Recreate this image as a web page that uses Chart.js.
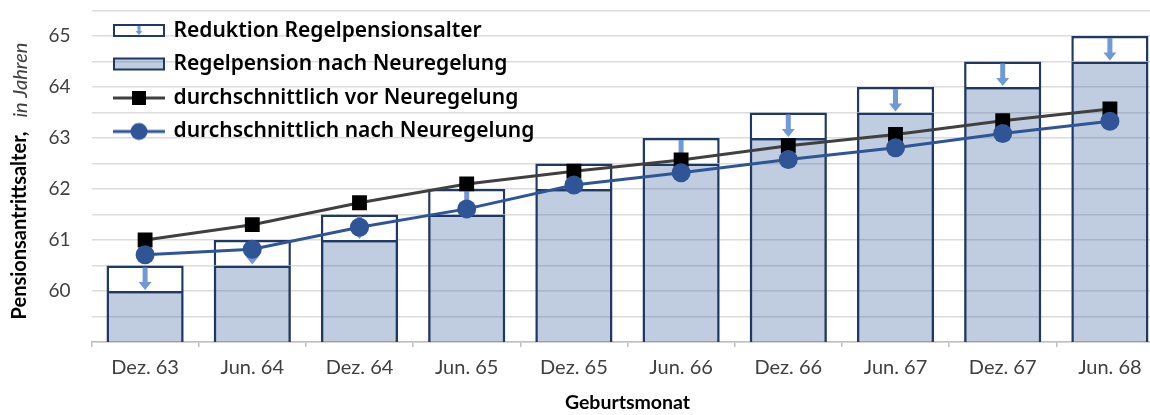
<!DOCTYPE html>
<html lang="de">
<head>
<meta charset="utf-8">
<title>Pensionsantrittsalter nach Geburtsmonat</title>
<script src="https://cdn.jsdelivr.net/npm/chart.js@4.4.1/dist/chart.umd.min.js"></script>
<style>
  html, body { margin: 0; padding: 0; background: #fff; overflow: hidden; }
  #wrap { width: 1174px; height: 415px; }
</style>
</head>
<body>
<div id="wrap"><canvas id="rentChart" width="1174" height="415"></canvas></div>
<script>
const months = ['Dez. 63', 'Jun. 64', 'Dez. 64', 'Jun. 65', 'Dez. 65', 'Jun. 66', 'Dez. 66', 'Jun. 67', 'Dez. 67', 'Jun. 68'];
const regelNeu = [60, 60.5, 61, 61.5, 62, 62.5, 63, 63.5, 64, 64.5];
const reduktion = [0.5, 0.5, 0.5, 0.5, 0.5, 0.5, 0.5, 0.5, 0.5, 0.5];
const vorNeu = [61.0, 61.3, 61.73, 62.1, 62.35, 62.57, 62.85, 63.07, 63.34, 63.57];
const nachNeu = [60.71, 60.82, 61.25, 61.61, 62.08, 62.32, 62.58, 62.81, 63.09, 63.33];
const yLabels = [60, 61, 62, 63, 64, 65];

const navy = '#1f3864';
const barFill = 'rgba(47, 85, 151, 0.3)';
const blue = '#2f5597';
const arrowBlue = '#7099d6';

Chart.defaults.font.family = 'Lato, "Noto Sans", sans-serif';
Chart.defaults.color = '#404040';

function drawArrow(g, x, yTop, yBot, shaft, head, headH) {
    g.beginPath();
    g.moveTo(x - shaft / 2, yTop);
    g.lineTo(x + shaft / 2, yTop);
    g.lineTo(x + shaft / 2, yBot - headH);
    g.lineTo(x + head / 2, yBot - headH);
    g.lineTo(x, yBot);
    g.lineTo(x - head / 2, yBot - headH);
    g.lineTo(x - shaft / 2, yBot - headH);
    g.closePath();
    g.fill();
}

// small canvases used as legend symbols
function legendIcon(paint) {
    const c = document.createElement('canvas');
    c.width = 52;
    c.height = 20;
    paint(c.getContext('2d'));
    return c;
}
const iconReduktion = legendIcon(g => {
    g.fillStyle = '#fff';
    g.fillRect(1, 4, 50, 11);
    g.strokeStyle = navy;
    g.lineWidth = 2;
    g.strokeRect(1, 4, 50, 11);
    g.fillStyle = arrowBlue;
    drawArrow(g, 26, 5, 14, 3, 7, 4);
});
const iconRegel = legendIcon(g => {
    g.fillStyle = barFill;
    g.fillRect(1, 4, 50, 11);
    g.strokeStyle = navy;
    g.lineWidth = 2;
    g.strokeRect(1, 4, 50, 11);
});
const iconVor = legendIcon(g => {
    g.strokeStyle = '#404040';
    g.lineWidth = 3;
    g.beginPath(); g.moveTo(0, 10); g.lineTo(52, 10); g.stroke();
    g.fillStyle = '#000';
    g.fillRect(19, 3, 14, 14);
});
const iconNach = legendIcon(g => {
    g.strokeStyle = blue;
    g.lineWidth = 3;
    g.beginPath(); g.moveTo(0, 10); g.lineTo(52, 10); g.stroke();
    g.fillStyle = blue;
    g.beginPath(); g.arc(26, 10, 8.5, 0, Math.PI * 2); g.fill();
});

// arrows inside the white reduction boxes
const reductionArrows = {
    id: 'reductionArrows',
    afterDatasetDraw(chart, args) {
        if (args.index !== 1) return;
        const y = chart.scales.y;
        const g = chart.ctx;
        g.save();
        g.fillStyle = arrowBlue;
        args.meta.data.forEach((bar, i) => {
            const top = y.getPixelForValue(regelNeu[i] + reduktion[i]);
            const bottom = y.getPixelForValue(regelNeu[i]);
            drawArrow(g, bar.x, top + 2, bottom - 1, 5, 13, 8);
        });
        g.restore();
    }
};

// y axis title with a bold and an italic part
const yTitle = {
    id: 'yTitle',
    afterDraw(chart) {
        const g = chart.ctx;
        const boldFont = 'bold 20px Lato, sans-serif';
        const italFont = 'italic 20px Lato, sans-serif';
        const part1 = 'Pensionsantrittsalter,';
        const part2 = 'in Jahren';
        g.save();
        g.font = boldFont;
        const w1 = g.measureText(part1).width;
        g.font = italFont;
        const w2 = g.measureText(part2).width;
        const gap = 14;
        const total = w1 + gap + w2;
        g.translate(20, 181);
        g.rotate(-Math.PI / 2);
        g.textBaseline = 'middle';
        g.textAlign = 'left';
        g.font = boldFont;
        g.fillStyle = '#000';
        g.fillText(part1, -total / 2, 0);
        g.font = italFont;
        g.fillStyle = '#404040';
        g.fillText(part2, -total / 2 + w1 + gap, 1);
        g.restore();
    }
};

// nudge the legend inside the plot area
const legendShift = {
    id: 'legendShift',
    afterLayout(chart) {
        chart.legend.left += 11;
        chart.legend.top += 8;
    }
};

new Chart(document.getElementById('rentChart'), {
    type: 'bar',
    data: {
        labels: months,
        datasets: [
            {
                label: 'Regelpension nach Neuregelung',
                data: regelNeu,
                backgroundColor: barFill,
                borderColor: navy,
                borderWidth: 2.5,
                barPercentage: 0.72,
                categoryPercentage: 1,
                stack: 'bars',
                order: 2
            },
            {
                label: 'Reduktion Regelpensionsalter',
                data: reduktion,
                backgroundColor: '#ffffff',
                borderColor: navy,
                borderWidth: 2.5,
                barPercentage: 0.72,
                categoryPercentage: 1,
                stack: 'bars',
                order: 2
            },
            {
                type: 'line',
                label: 'durchschnittlich vor Neuregelung',
                data: vorNeu,
                borderColor: '#404040',
                borderWidth: 3,
                pointStyle: 'rect',
                pointRadius: 10.5,
                pointBackgroundColor: '#000',
                pointBorderWidth: 0,
                stack: 'vor',
                order: 1
            },
            {
                type: 'line',
                label: 'durchschnittlich nach Neuregelung',
                data: nachNeu,
                borderColor: blue,
                borderWidth: 3,
                pointStyle: 'circle',
                pointRadius: 9.5,
                pointBackgroundColor: blue,
                pointBorderWidth: 0,
                stack: 'nach',
                order: 0
            }
        ]
    },
    options: {
        responsive: false,
        animation: false,
        layout: { padding: { top: 8.3, right: 3, bottom: 0, left: 0 } },
        scales: {
            x: {
                stacked: true,
                grid: { drawOnChartArea: false, color: '#bfbfbf', tickLength: 5, lineWidth: 1.5 },
                border: { color: '#bfbfbf', width: 1.5 },
                ticks: { font: { size: 20 }, padding: 9, color: '#404040' },
                title: {
                    display: true,
                    text: 'Geburtsmonat',
                    font: { size: 19.5, weight: 'bold' },
                    color: '#000',
                    padding: { top: 0, bottom: 1 }
                },
                afterFit: s => { s.height = 73; }
            },
            y: {
                stacked: true,
                min: 59,
                max: 65.5,
                ticks: {
                    stepSize: 0.5,
                    padding: 0,
                    font: { size: 19, lineHeight: 0.8 },
                    color: '#404040',
                    callback: v => yLabels.includes(v) ? String(v) : ''
                },
                grid: { color: '#dcdcdc', lineWidth: 1.5, tickLength: 21, tickColor: 'rgba(0,0,0,0)' },
                border: { display: false },
                afterFit: s => { s.width = 91.5; }
            }
        },
        plugins: {
            tooltip: { enabled: false },
            legend: {
                position: 'chartArea',
                align: 'start',
                labels: {
                    usePointStyle: true,
                    pointStyleWidth: 48,
                    padding: 12.5,
                    color: '#000',
                    font: { family: '"Noto Sans", Lato, sans-serif', size: 21, weight: '600' },
                    generateLabels: () => [
                        { text: 'Reduktion Regelpensionsalter', pointStyle: iconReduktion, datasetIndex: 1 },
                        { text: 'Regelpension nach Neuregelung', pointStyle: iconRegel, datasetIndex: 0 },
                        { text: 'durchschnittlich vor Neuregelung', pointStyle: iconVor, datasetIndex: 2 },
                        { text: 'durchschnittlich nach Neuregelung', pointStyle: iconNach, datasetIndex: 3 }
                    ]
                }
            }
        }
    },
    plugins: [reductionArrows, yTitle, legendShift]
});
</script>
</body>
</html>
